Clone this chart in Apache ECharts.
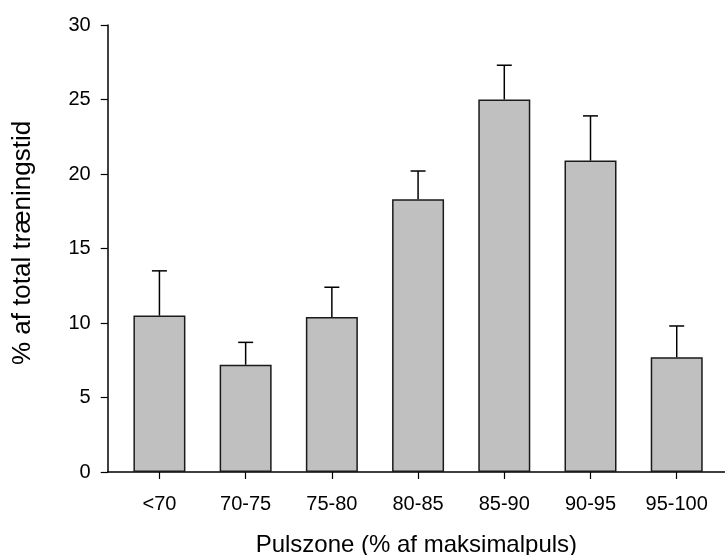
<!DOCTYPE html>
<html>
<head>
<meta charset="utf-8">
<script src="https://cdn.jsdelivr.net/npm/echarts@6/dist/echarts.min.js"></script>
<style>html,body{margin:0;padding:0;background:#fff}#c{width:725px;height:555px}</style>
</head>
<body>
<div id="c"></div>
<script>
const categories = ['<70', '70-75', '75-80', '80-85', '85-90', '90-95', '95-100'];
const values = [10.5, 7.2, 10.4, 18.3, 25.0, 20.9, 7.7];
const errors = [3.0, 1.5, 2.0, 1.9, 2.3, 3.0, 2.1];
const yTicks = [0, 5, 10, 15, 20, 25, 30];
const xTitle = 'Pulszone (% af maksimalpuls)';
const yTitle = '% af total træningstid';

const positions = categories.map((c, i) => i + 1);
const FONT = '"Liberation Sans", Arial, sans-serif';

const chart = echarts.init(document.getElementById('c'), null, {renderer: 'canvas'});
chart.setOption({
  animation: false,
  backgroundColor: '#fff',
  grid: {left: 107.7, right: 0, top: 25, bottom: 83, containLabel: false, outerBoundsMode: 'none'},
  xAxis: {
    type: 'value',
    min: 0.4,
    max: 7.56,
    splitLine: {show: false},
    axisLine: {show: true, onZero: false, lineStyle: {color: '#000', width: 1.5}},
    axisTick: {show: true, customValues: positions, length: 7, lineStyle: {color: '#000', width: 1.2}},
    axisLabel: {
      customValues: positions, margin: 22, color: '#000', fontSize: 20, fontFamily: FONT,
      formatter: v => categories[Math.round(v) - 1] || ''
    },
    name: xTitle, nameLocation: 'middle', nameGap: 61,
    nameTextStyle: {color: '#000', fontSize: 24, fontFamily: FONT}
  },
  yAxis: {
    type: 'value',
    min: yTicks[0], max: yTicks[yTicks.length - 1], interval: 5,
    splitLine: {show: false},
    axisLine: {show: true, lineStyle: {color: '#000', width: 1.5}},
    axisTick: {show: true, length: 7, lineStyle: {color: '#000', width: 1.2}},
    axisLabel: {margin: 17, color: '#000', fontSize: 20, fontFamily: FONT}
  },
  graphic: [{
    type: 'text', x: 23, y: 243, rotation: Math.PI / 2,
    style: {text: yTitle, fill: '#000', font: '26px ' + FONT, textAlign: 'center', textVerticalAlign: 'middle'}
  }],
  series: [
    {
      type: 'bar',
      barWidth: 52,
      data: values.map((v, i) => [positions[i], v]),
      itemStyle: {color: '#c0c0c0', borderColor: '#1a1a1a', borderWidth: 1.5},
      z: 2
    },
    {
      type: 'custom',
      z: 3,
      data: values.map((v, i) => [positions[i], v, v + errors[i]]),
      renderItem: function (params, api) {
        const x = api.value(0);
        const p1 = api.coord([x, api.value(1)]);
        const p2 = api.coord([x, api.value(2)]);
        const half = 7.5;
        const style = {stroke: '#000', lineWidth: 1.5};
        return {
          type: 'group',
          children: [
            {type: 'line', shape: {x1: p1[0], y1: p1[1], x2: p2[0], y2: p2[1]}, style: style},
            {type: 'line', shape: {x1: p2[0] - half, y1: p2[1], x2: p2[0] + half, y2: p2[1]}, style: style}
          ]
        };
      }
    }
  ]
});
</script>
</body>
</html>
